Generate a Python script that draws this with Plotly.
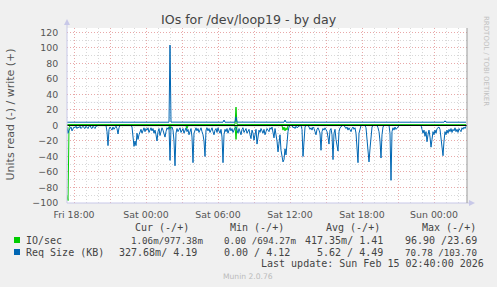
import numpy as np
import pandas as pd
import plotly.graph_objects as go

# ---------------- data ----------------
START = "2026-02-13 17:25"
STEP_MIN = 5
N_POINTS = 400

# Req Size (KB) read values (plotted negative), one per 5 minutes
req_read = [
    2, 10, 6, 3, 2, 7, 5, 2, 3, 1, 4, 2,
    3, 1, 4, 2, 1, 3, 4, 1, 2, 4, 1, 0,
    3, 4, 1, 3, 4, 1, 0, 0, 0, 0, 0, 0,
    0, 0, 0, 0, 8, 26, 5, 2, 4, 6, 2, 5,
    3, 1, 4, 11, 3, 0, 0, 0, 0, 0, 0, 0,
    0, 0, 0, 0, 0, 2, 14, 27, 20, 26, 10, 18,
    12, 8, 5, 10, 6, 3, 8, 4, 6, 3, 9, 5,
    3, 7, 4, 10, 6, 12, 20, 8, 4, 13, 5, 3,
    6, 10, 15, 8, 3, 5, 2, 45, 3, 2, 6, 20,
    52, 10, 4, 8, 5, 3, 9, 6, 4, 10, 7, 3,
    8, 5, 12, 6, 4, 15, 48, 10, 5, 3, 7, 4,
    9, 5, 3, 8, 12, 20, 40, 6, 3, 7, 4, 9,
    5, 3, 8, 12, 6, 4, 9, 3, 7, 10, 5, 15,
    48, 12, 5, 8, 4, 10, 6, 3, 7, 4, 9, 5,
    3, 2, 6, 10, 4, 8, 12, 5, 3, 9, 6, 4,
    10, 7, 5, 12, 17, 6, 10, 19, 8, 5, 24, 12,
    6, 9, 4, 7, 10, 5, 12, 8, 4, 6, 8, 3,
    5, 2, 8, 16, 4, 10, 20, 34, 25, 12, 32, 40,
    47, 44, 30, 38, 20, 8, 2, 0, 0, 0, 3, 2,
    4, 1, 3, 2, 0, 0, 0, 5, 40, 15, 2, 0,
    0, 0, 2, 5, 3, 6, 2, 4, 8, 12, 5, 3,
    6, 10, 32, 8, 4, 6, 3, 5, 8, 15, 24, 6,
    4, 12, 44, 10, 5, 18, 25, 33, 8, 3, 2, 0,
    0, 0, 2, 4, 2, 6, 3, 5, 8, 4, 2, 5,
    3, 10, 25, 48, 10, 2, 0, 0, 0, 0, 0, 3,
    20, 34, 47, 30, 10, 2, 0, 0, 0, 0, 0, 3,
    8, 20, 42, 12, 2, 0, 0, 0, 0, 0, 0, 10,
    70.78, 8, 3, 6, 2, 5, 4, 2, 0, 0, 0, 0,
    0, 0, 0, 0, 0, 0, 0, 0, 0, 0, 0, 0,
    0, 0, 0, 0, 0, 0, 0, 5, 10, 6, 14, 8,
    21, 12, 6, 15, 28, 18, 8, 12, 6, 10, 4, 3,
    2, 5, 15, 30, 39, 20, 8, 12, 6, 10, 5, 8,
    4, 9, 5, 7, 3, 8, 5, 9, 4, 6, 8, 3,
    5, 2, 4, 1,
]

# Req Size (KB) write (positive) - sample index / value pairs
req_write_idx = [0, 102, 103, 104, 156, 157, 158, 168, 169, 170, 217, 218, 219, 377, 378, 379, 399]
req_write_val = [4.2, 4.2, 103.7, 4.3, 4.2, 7.0, 4.2, 4.2, 11.0, 4.3, 4.2, 7.0, 4.2, 4.2, 6.0, 4.2, 4.19]

# IO/sec read (plotted negative)
io_read_idx = [0, 1, 2, 3, 102, 103, 104, 119, 120, 121, 168, 169, 170, 215, 216, 217, 218, 219, 220, 221, 399]
io_read_val = [90.0, 96.9, 3.0, 0.2, 0.2, 5.0, 0.2, 0.2, 4.0, 0.2, 0.2, 18.0, 0.2, 0.2, 6.0, 2.0, 7.0, 3.0, 6.0, 0.2, 0.0011]

# IO/sec write (positive)
io_write_idx = [0, 168, 169, 170, 399]
io_write_val = [1.3, 1.3, 23.69, 1.3, 0.98]

x_tick_labels = ["Fri 18:00", "", "Sat 00:00", "", "Sat 06:00", "", "Sat 12:00", "",
                 "Sat 18:00", "", "Sun 00:00"]
x_tick_times = ["2026-02-13 18:00", "2026-02-13 21:00", "2026-02-14 00:00", "2026-02-14 03:00",
                "2026-02-14 06:00", "2026-02-14 09:00", "2026-02-14 12:00", "2026-02-14 15:00",
                "2026-02-14 18:00", "2026-02-14 21:00", "2026-02-15 00:00"]

legend_header = ["Cur (-/+)", "Min (-/+)", "Avg (-/+)", "Max (-/+)"]
series_names = ["IO/sec", "Req Size (KB)"]

# ---------------- build ----------------
GREEN = "#00CC00"
BLUE = "#0066B3"

t0 = pd.Timestamp(START)


def to_time(idx):
    return t0 + pd.to_timedelta(np.asarray(idx) * STEP_MIN, unit="min")


t_full = to_time(np.arange(N_POINTS))
t_end = to_time([N_POINTS])[0]

fig = go.Figure()
fig.add_trace(go.Scatter(x=to_time(io_read_idx), y=-np.array(io_read_val), mode="lines",
                         line=dict(color=GREEN, width=1), showlegend=False))
fig.add_trace(go.Scatter(x=to_time(io_write_idx), y=np.array(io_write_val), mode="lines",
                         line=dict(color=GREEN, width=1), showlegend=False))
fig.add_trace(go.Scatter(x=t_full, y=-np.array(req_read), mode="lines",
                         line=dict(color=BLUE, width=1), showlegend=False))
fig.add_trace(go.Scatter(x=to_time(req_write_idx), y=np.array(req_write_val), mode="lines",
                         line=dict(color=BLUE, width=1), showlegend=False))
fig.add_trace(go.Scatter(x=[t0, t_end], y=[0, 0], mode="lines",
                         line=dict(color="#000000", width=1), showlegend=False))

W, H = 497, 287
L, R, T, B = 67, 30, 28, 84
PW, PH = W - L - R, H - T - B


def px(x):
    return (x - L) / PW


def py(y):
    return (H - B - y) / PH


TICKFONT = dict(family="DejaVu Sans", size=9.4, color="#555555")
MONO = "DejaVu Sans Mono"

fig.update_layout(
    width=W, height=H,
    margin=dict(l=L, r=R, t=T, b=B, pad=0),
    paper_bgcolor="#F0F0F0",
    plot_bgcolor="#FFFFFF",
    showlegend=False,
    xaxis=dict(
        type="date",
        range=[t0, t_end],
        tickmode="array",
        tickvals=x_tick_times,
        ticktext=x_tick_labels,
        tickfont=TICKFONT,
        showgrid=True, gridcolor="#E8A8A8", griddash="1px,2px", gridwidth=1,
        minor=dict(dtick=3600000, tick0="2026-02-13 18:00", showgrid=True,
                   gridcolor="#D8D8D8", griddash="1px,2px", gridwidth=1),
        ticks="outside", ticklen=3, tickcolor="rgba(0,0,0,0)",
        showline=False, zeroline=False, fixedrange=True,
    ),
    yaxis=dict(
        range=[-100, 125.7],
        tickmode="array",
        tickvals=list(range(-100, 121, 20)),
        tickfont=TICKFONT,
        showgrid=True, gridcolor="#E8A8A8", griddash="1px,2px", gridwidth=1,
        minor=dict(dtick=10, tick0=0, showgrid=True,
                   gridcolor="#D8D8D8", griddash="1px,2px", gridwidth=1),
        ticks="outside", ticklen=6, tickcolor="rgba(0,0,0,0)",
        showline=False, zeroline=False, fixedrange=True,
    ),
)

AX = "#C8C8E8"
shapes = [
    # left axis (extends to arrow)
    dict(type="line", xref="paper", yref="paper", x0=0, x1=0, y0=0, y1=py(22),
         line=dict(color=AX, width=1)),
    # bottom axis
    dict(type="line", xref="paper", yref="paper", x0=0, x1=px(470), y0=0, y1=0,
         line=dict(color=AX, width=1)),
    # right border
    dict(type="line", xref="paper", yref="paper", x0=1, x1=1, y0=0, y1=1,
         line=dict(color="#999999", width=1)),
    # arrows
    dict(type="path", xref="paper", yref="paper",
         path=f"M {px(64)} {py(25)} L {px(70)} {py(25)} L {px(67)} {py(19)} Z",
         fillcolor=AX, line=dict(width=0)),
    dict(type="path", xref="paper", yref="paper",
         path=f"M {px(469)} {py(200)} L {px(469)} {py(206)} L {px(475)} {py(203)} Z",
         fillcolor=AX, line=dict(width=0)),
    # legend squares
    dict(type="rect", xref="paper", yref="paper", x0=px(14), x1=px(20), y0=py(237), y1=py(243),
         fillcolor=GREEN, line=dict(width=0)),
    dict(type="rect", xref="paper", yref="paper", x0=px(14), x1=px(20), y0=py(249), y1=py(255),
         fillcolor=BLUE, line=dict(width=0)),
]
fig.update_layout(shapes=shapes)

ann = []


def text(x, y, s, size=10, family=MONO, color="#444444", xanchor="left", angle=0):
    ann.append(dict(x=px(x), y=py(y), xref="paper", yref="paper", text=s, showarrow=False,
                    xanchor=xanchor, yanchor="middle", textangle=angle,
                    font=dict(family=family, size=size, color=color),
                    borderpad=0, borderwidth=0))


text(248.5, 19, "IOs for /dev/loop19 - by day", size=12.6, family="DejaVu Sans",
     color="#444444", xanchor="center")
text(10, 114.5, "Units read (-) / write (+)", size=11, family="DejaVu Sans",
     color="#555555", xanchor="center", angle=-90)
text(486, 61, "RRDTOOL / TOBI OETIKER", size=7, family="DejaVu Sans",
     color="#C0C0C0", xanchor="center", angle=90)

# legend header
for x, s in zip([135, 230, 326, 422], legend_header):
    text(x, 227, s)
# rows (tight cells squeezed to the reference width)
text(26, 240, series_names[0])
text(131, 240, "1.06m/977.38m", size=9.2)
text(224, 240, "0.00 /694.27m", size=9.2)
text(305, 240, "417.35m/ 1.41")
text(405, 240, "96.90 /23.69")

text(26, 252, series_names[1])
text(119, 252, "327.68m/ 4.19")
text(224, 252, "0.00 / 4.12")
text(317, 252, "5.62 / 4.49")
text(405, 252, "70.78 /103.70", size=9.2)

text(261, 263, "Last update: Sun Feb 15 02:40:00 2026")
text(248, 276, "Munin 2.0.76", size=7.6, family="DejaVu Sans", color="#BBBBBB", xanchor="center")

fig.update_layout(annotations=ann)
fig.write_html("out.html")
